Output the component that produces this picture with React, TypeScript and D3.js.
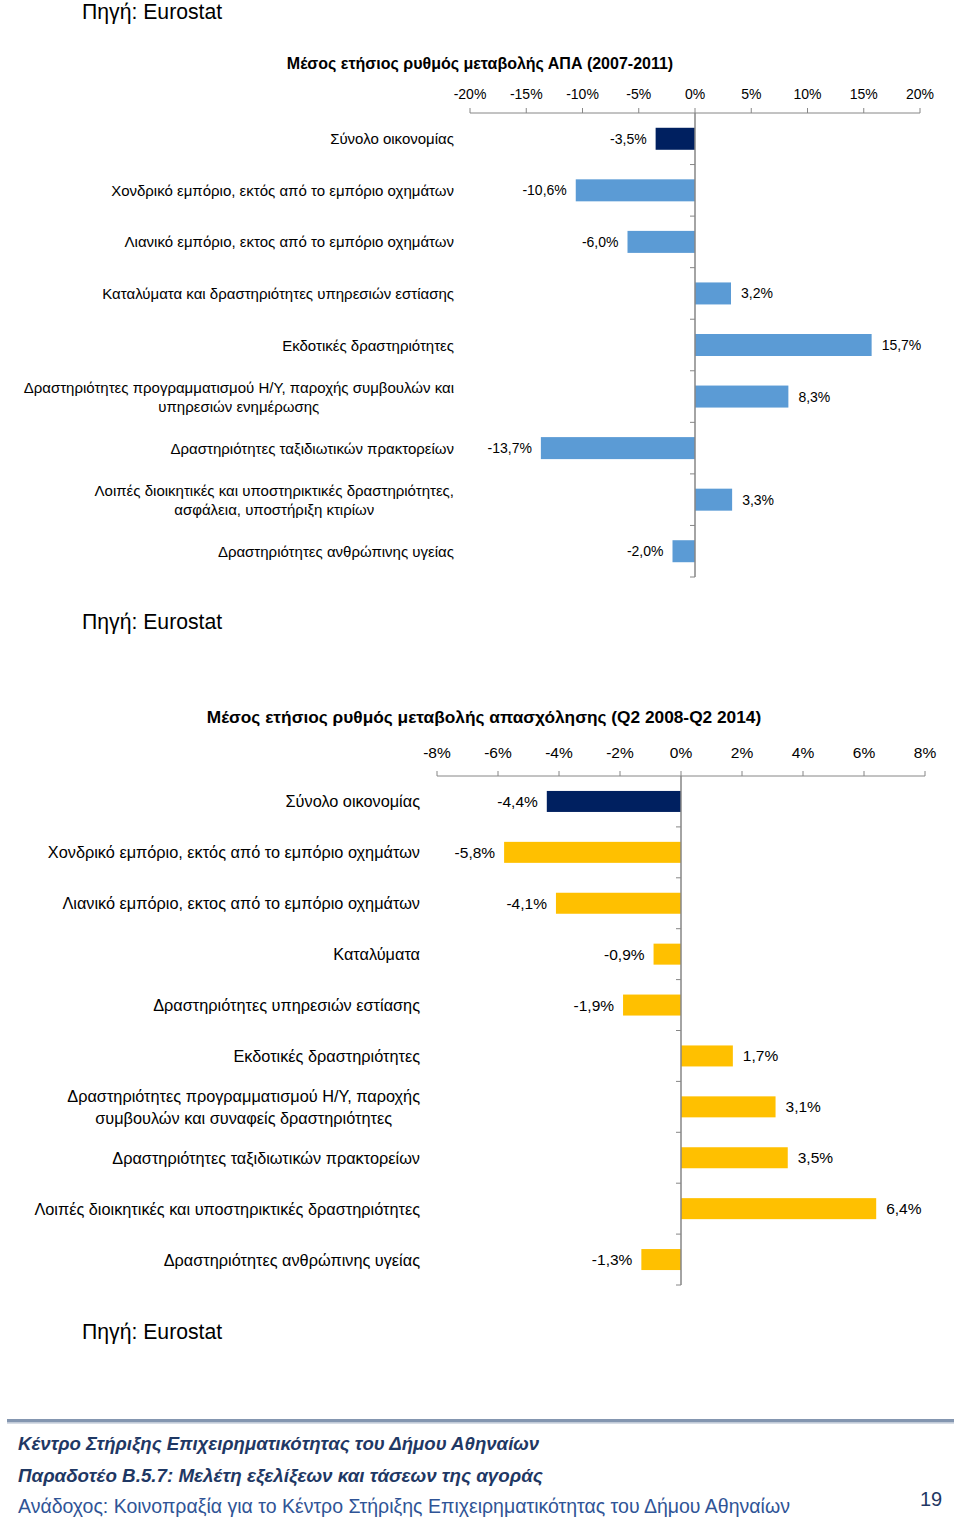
import React, { useEffect, useRef } from "react";
import * as d3 from "d3";

// ---------- Data ----------
const gdpTitle = "Μέσος ετήσιος ρυθμός μεταβολής ΑΠΑ (2007-2011)";
const gdpCategories = [
  "Σύνολο οικονομίας",
  "Χονδρικό εμπόριο, εκτός από το εμπόριο οχημάτων",
  "Λιανικό εμπόριο, εκτος από το εμπόριο οχημάτων",
  "Καταλύματα και δραστηριότητες υπηρεσιών εστίασης",
  "Εκδοτικές δραστηριότητες",
  "Δραστηριότητες προγραμματισμού Η/Υ, παροχής συμβουλών και\nυπηρεσιών ενημέρωσης",
  "Δραστηριότητες ταξιδιωτικών πρακτορείων",
  "Λοιπές διοικητικές και υποστηρικτικές δραστηριότητες,\nασφάλεια, υποστήριξη κτιρίων",
  "Δραστηριότητες ανθρώπινης υγείας",
];
const gdpValues = [-3.5, -10.6, -6.0, 3.2, 15.7, 8.3, -13.7, 3.3, -2.0];
const gdpTicks = [-20, -15, -10, -5, 0, 5, 10, 15, 20];

const empTitle = "Μέσος ετήσιος ρυθμός μεταβολής απασχόλησης (Q2 2008-Q2 2014)";
const empCategories = [
  "Σύνολο οικονομίας",
  "Χονδρικό εμπόριο, εκτός από το εμπόριο οχημάτων",
  "Λιανικό εμπόριο, εκτος από το εμπόριο οχημάτων",
  "Καταλύματα",
  "Δραστηριότητες υπηρεσιών εστίασης",
  "Εκδοτικές δραστηριότητες",
  "Δραστηριότητες προγραμματισμού Η/Υ, παροχής\nσυμβουλών και συναφείς δραστηριότητες",
  "Δραστηριότητες ταξιδιωτικών πρακτορείων",
  "Λοιπές διοικητικές και υποστηρικτικές δραστηριότητες",
  "Δραστηριότητες ανθρώπινης υγείας",
];
const empValues = [-4.4, -5.8, -4.1, -0.9, -1.9, 1.7, 3.1, 3.5, 6.4, -1.3];
const empTicks = [-8, -6, -4, -2, 0, 2, 4, 6, 8];

const sourceText = "Πηγή: Eurostat";
const footerLines = [
  "Κέντρο Στήριξης Επιχειρηματικότητας του Δήμου Αθηναίων",
  "Παραδοτέο Β.5.7: Μελέτη εξελίξεων και τάσεων της αγοράς",
  "Ανάδοχος: Κοινοπραξία για το Κέντρο Στήριξης Επιχειρηματικότητας του Δήμου Αθηναίων",
];
const pageNumber = "19";

// ---------- Styles ----------
const FONT = "'Liberation Sans', Arial, sans-serif";
const AXIS_COLOR = "#868686";
const TOTAL_COLOR = "#002060";

const fmtTick = (v: number) => `${v < 0 ? "-" : ""}${Math.abs(v)}%`;
const fmtVal = (v: number) =>
  `${v < 0 ? "-" : ""}${Math.abs(v).toFixed(1).replace(".", ",")}%`;

type ChartCfg = {
  title: string;
  titleX: number;
  titleY: number;
  titleSize: number;
  cats: string[];
  vals: number[];
  ticks: number[];
  xRange: [number, number];
  yRange: [number, number];
  labelRight: number;
  labelSize: number;
  valSize: number;
  lineGap: number;
  tickSize: number;
  tickLabelY: number;
  barColor: string;
  barHeight: number;
};

function drawChart(svg: d3.Selection<SVGSVGElement, unknown, null, undefined>, c: ChartCfg) {
  const g = svg.append("g");
  const x = d3
    .scaleLinear()
    .domain([c.ticks[0], c.ticks[c.ticks.length - 1]])
    .range(c.xRange);
  const y = d3
    .scaleBand<number>()
    .domain(d3.range(c.cats.length))
    .range(c.yRange);

  g.append("text")
    .attr("x", c.titleX)
    .attr("y", c.titleY)
    .attr("text-anchor", "middle")
    .attr("dominant-baseline", "central")
    .attr("font-family", FONT)
    .attr("font-weight", "bold")
    .attr("font-size", c.titleSize)
    .attr("fill", "#000")
    .text(c.title);

  // top axis
  const axisY = c.yRange[0];
  const ax = g.append("g").attr("transform", `translate(0,${axisY})`);
  ax.append("line")
    .attr("x1", c.xRange[0])
    .attr("x2", c.xRange[1])
    .attr("stroke", AXIS_COLOR)
    .attr("stroke-width", 1);
  ax.selectAll("line.tk")
    .data(c.ticks)
    .join("line")
    .attr("class", "tk")
    .attr("x1", (d) => x(d))
    .attr("x2", (d) => x(d))
    .attr("y1", 0)
    .attr("y2", -5)
    .attr("stroke", AXIS_COLOR);
  g.selectAll("text.tkl")
    .data(c.ticks)
    .join("text")
    .attr("class", "tkl")
    .attr("x", (d) => x(d))
    .attr("y", c.tickLabelY)
    .attr("text-anchor", "middle")
    .attr("dominant-baseline", "central")
    .attr("font-family", FONT)
    .attr("font-size", c.tickSize)
    .attr("fill", "#000")
    .text((d) => fmtTick(d));

  // bars
  const pad = (y.bandwidth() - c.barHeight) / 2;
  g.selectAll("rect.bar")
    .data(c.vals)
    .join("rect")
    .attr("class", "bar")
    .attr("x", (d) => Math.min(x(0), x(d)))
    .attr("width", (d) => Math.abs(x(d) - x(0)))
    .attr("y", (_, i) => (y(i) as number) + pad)
    .attr("height", c.barHeight)
    .attr("fill", (_, i) => (i === 0 ? TOTAL_COLOR : c.barColor));

  // vertical axis
  g.append("line")
    .attr("x1", x(0))
    .attr("x2", x(0))
    .attr("y1", c.yRange[0])
    .attr("y2", c.yRange[1])
    .attr("stroke", AXIS_COLOR)
    .attr("stroke-width", 1.5);
  const bounds = d3.range(1, c.cats.length + 1).map((i) =>
    i < c.cats.length ? (y(i) as number) : c.yRange[1]
  );
  g.selectAll("line.ytk")
    .data(bounds)
    .join("line")
    .attr("class", "ytk")
    .attr("x1", x(0) - 5)
    .attr("x2", x(0))
    .attr("y1", (d) => d)
    .attr("y2", (d) => d)
    .attr("stroke", AXIS_COLOR);

  // value labels
  g.selectAll("text.val")
    .data(c.vals)
    .join("text")
    .attr("class", "val")
    .attr("x", (d) => (d < 0 ? x(d) - 9 : x(d) + 10))
    .attr("y", (_, i) => (y(i) as number) + y.bandwidth() / 2)
    .attr("text-anchor", (d) => (d < 0 ? "end" : "start"))
    .attr("dominant-baseline", "central")
    .attr("font-family", FONT)
    .attr("font-size", c.valSize)
    .attr("fill", "#000")
    .text((d) => fmtVal(d));

  // category labels (multi-line centered within right-aligned block)
  c.cats.forEach((cat, i) => {
    const lines = cat.split("\n");
    const cy = (y(i) as number) + y.bandwidth() / 2;
    const texts = lines.map((ln, j) =>
      g
        .append("text")
        .attr("y", cy + (j - (lines.length - 1) / 2) * c.lineGap)
        .attr("dominant-baseline", "central")
        .attr("font-family", FONT)
        .attr("font-size", c.labelSize)
        .attr("fill", "#000")
        .text(ln)
    );
    const widths = texts.map((t) => (t.node() as SVGTextElement).getComputedTextLength());
    const maxW = Math.max(...widths);
    const center = c.labelRight - maxW / 2;
    texts.forEach((t) => t.attr("x", center).attr("text-anchor", "middle"));
  });
}

export default function App() {
  const ref = useRef<SVGSVGElement>(null);

  useEffect(() => {
    const svg = d3.select(ref.current as SVGSVGElement);
    svg.selectAll("*").remove();

    svg.append("rect").attr("width", 960).attr("height", 1524).attr("fill", "#fff");

    // source labels
    [19, 629, 1339].forEach((yy) => {
      svg
        .append("text")
        .attr("x", 82)
        .attr("y", yy)
        .attr("font-family", FONT)
        .attr("font-size", 21.2)
        .attr("fill", "#000")
        .text(sourceText);
    });

    drawChart(svg, {
      title: gdpTitle,
      titleX: 480,
      titleY: 63,
      titleSize: 16,
      cats: gdpCategories,
      vals: gdpValues,
      ticks: gdpTicks,
      xRange: [470, 920],
      yRange: [113, 577],
      labelRight: 454,
      labelSize: 15,
      valSize: 14,
      lineGap: 19,
      tickSize: 14,
      tickLabelY: 94,
      barColor: "#5B9BD5",
      barHeight: 22,
    });

    drawChart(svg, {
      title: empTitle,
      titleX: 484,
      titleY: 717,
      titleSize: 17.3,
      cats: empCategories,
      vals: empValues,
      ticks: empTicks,
      xRange: [437, 925],
      yRange: [776, 1285],
      labelRight: 420,
      labelSize: 16.3,
      valSize: 15.5,
      lineGap: 22,
      tickSize: 15.5,
      tickLabelY: 752,
      barColor: "#FFC000",
      barHeight: 21,
    });

    // footer
    svg.append("rect").attr("x", 7).attr("y", 1419).attr("width", 947).attr("height", 3.5).attr("fill", "#8496B0");
    svg.append("rect").attr("x", 7).attr("y", 1423).attr("width", 947).attr("height", 1).attr("fill", "#D6DCE5");

    const fy = [1443, 1475, 1506];
    const fsz = [18.6, 18.8, 19.5];
    footerLines.forEach((t, i) => {
      svg
        .append("text")
        .attr("x", 18)
        .attr("y", fy[i])
        .attr("dominant-baseline", "central")
        .attr("font-family", FONT)
        .attr("font-size", fsz[i])
        .attr("font-weight", i < 2 ? "bold" : "normal")
        .attr("font-style", i < 2 ? "italic" : "normal")
        .attr("fill", i < 2 ? "#1F3864" : "#2F5496")
        .text(t);
    });
    svg
      .append("text")
      .attr("x", 931)
      .attr("y", 1499)
      .attr("text-anchor", "middle")
      .attr("dominant-baseline", "central")
      .attr("font-family", FONT)
      .attr("font-size", 20)
      .attr("fill", "#1F3864")
      .text(pageNumber);
  }, []);

  return (
    <svg
      ref={ref}
      width={960}
      height={1524}
      style={{ position: "absolute", left: 0, top: 0, display: "block" }}
    />
  );
}
